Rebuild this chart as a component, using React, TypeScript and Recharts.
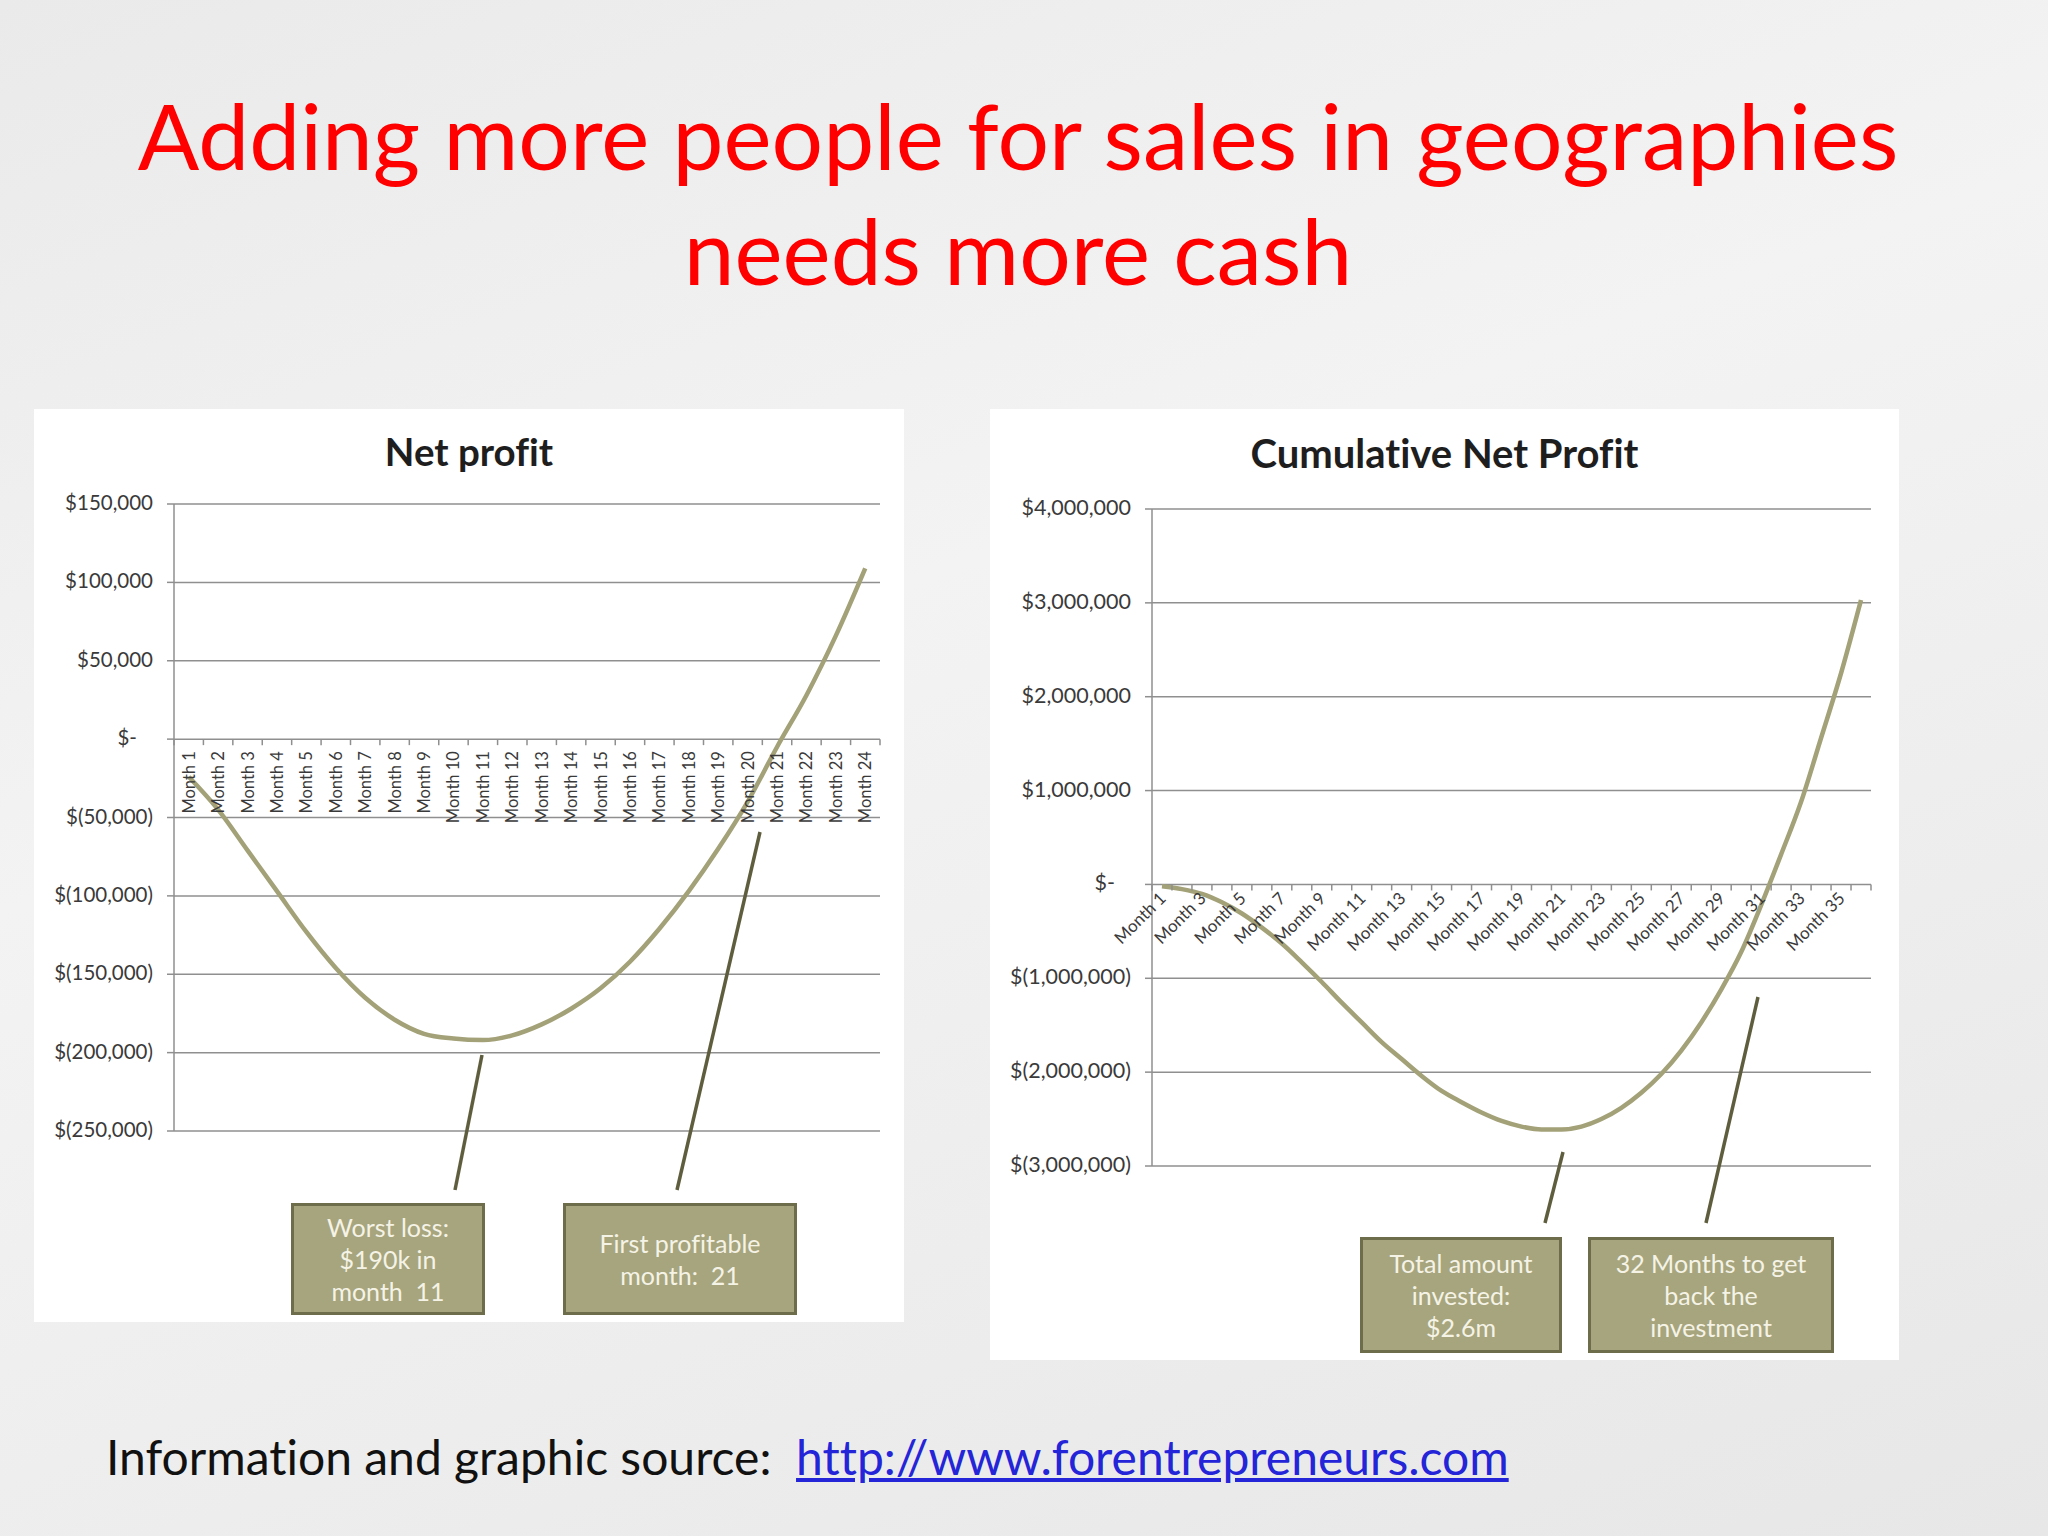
import React from "react";
import { LineChart, Line, XAxis, YAxis, CartesianGrid, ReferenceDot } from "recharts";

// ---- data ----
const NET_MONTHS = [
  "Month 1", "Month 2", "Month 3", "Month 4", "Month 5", "Month 6",
  "Month 7", "Month 8", "Month 9", "Month 10", "Month 11", "Month 12",
  "Month 13", "Month 14", "Month 15", "Month 16", "Month 17", "Month 18",
  "Month 19", "Month 20", "Month 21", "Month 22", "Month 23", "Month 24",
];
const NET_PROFIT = [
  -24000, -45000, -71000, -97000, -123000, -146000, -165000, -179000,
  -188000, -191000, -192000, -189000, -182000, -172000, -159000, -142000,
  -121000, -97000, -70000, -40000, -5000, 28000, 66000, 109000,
];
const NET_TICKS = [-250000, -200000, -150000, -100000, -50000, 0, 50000, 100000, 150000];

const CUM_MONTHS = [
  "Month 1", "Month 2", "Month 3", "Month 4", "Month 5", "Month 6",
  "Month 7", "Month 8", "Month 9", "Month 10", "Month 11", "Month 12",
  "Month 13", "Month 14", "Month 15", "Month 16", "Month 17", "Month 18",
  "Month 19", "Month 20", "Month 21", "Month 22", "Month 23", "Month 24",
  "Month 25", "Month 26", "Month 27", "Month 28", "Month 29", "Month 30",
  "Month 31", "Month 32", "Month 33", "Month 34", "Month 35", "Month 36",
];
const CUM_PROFIT = [
  -20000, -50000, -100000, -190000, -310000, -460000, -630000, -830000,
  -1040000, -1260000, -1470000, -1680000, -1860000, -2040000, -2200000, -2320000,
  -2430000, -2520000, -2580000, -2610000, -2610000, -2580000, -2500000, -2380000,
  -2220000, -2020000, -1770000, -1470000, -1120000, -720000, -220000, 320000,
  880000, 1560000, 2250000, 3030000,
];
const CUM_TICKS = [-3000000, -2000000, -1000000, 0, 1000000, 2000000, 3000000, 4000000];

const netData = NET_MONTHS.map((m, i) => ({ month: m, value: NET_PROFIT[i] }));
const cumData = CUM_MONTHS.map((m, i) => ({ month: m, value: CUM_PROFIT[i] }));

// ---- look ----
const FONT = "Lato, 'Open Sans', sans-serif";
const LINE = "#a3a177";
const GRID = "#8f8f8f";
const LABEL = "#3a3a3a";
const BOX_FILL = "#a7a57d";
const BOX_EDGE = "#6d6c4b";
const LEADER = "#5e5d3d";

const fmtMoney = (v: number) => {
  if (v === 0) return "$-";
  const s = Math.abs(v).toLocaleString("en-US");
  return v < 0 ? `$(${s})` : `$${s}`;
};

const makeYTick = (size: number) => (props: any) => {
  const { x, y, payload } = props;
  const v = payload.value as number;
  return (
    <text x={v === 0 ? x - 16 : x} y={y} dy={6} textAnchor="end" fontSize={size} fontFamily={FONT} fill={LABEL}>
      {fmtMoney(v)}
    </text>
  );
};
const NetYTick = makeYTick(20.5);
const CumYTick = makeYTick(21.5);

// plot width / categories, for the tick marks on the zero line
const NET_STEP = 706 / 24;
const CUM_STEP = 719 / 36;

const netAxisMark = (label: string, i: number) => (props: any) => {
  const { cx, cy } = props;
  const tx = cx + 6;
  const ty = cy + 12;
  return (
    <g>
      <line x1={cx - NET_STEP / 2} x2={cx - NET_STEP / 2} y1={cy} y2={cy + 6} stroke={GRID} strokeWidth={1.5} />
      {i === NET_MONTHS.length - 1 && (
        <line x1={cx + NET_STEP / 2} x2={cx + NET_STEP / 2} y1={cy} y2={cy + 6} stroke={GRID} strokeWidth={1.5} />
      )}
      <text x={tx} y={ty} transform={`rotate(-90 ${tx} ${ty})`} textAnchor="end" fontSize={16.5} fontFamily={FONT} fill={LABEL}>
        {label}
      </text>
    </g>
  );
};

const cumAxisMark = (label: string, i: number) => (props: any) => {
  const { cx, cy } = props;
  const tx = cx + 5;
  const ty = cy + 15;
  return (
    <g>
      <line x1={cx - CUM_STEP / 2} x2={cx - CUM_STEP / 2} y1={cy} y2={cy + 6} stroke={GRID} strokeWidth={1.5} />
      {i === CUM_MONTHS.length - 1 && (
        <line x1={cx + CUM_STEP / 2} x2={cx + CUM_STEP / 2} y1={cy} y2={cy + 6} stroke={GRID} strokeWidth={1.5} />
      )}
      {i % 2 === 0 && (
        <text x={tx} y={ty} transform={`rotate(-45 ${tx} ${ty})`} textAnchor="end" fontSize={17} fontFamily={FONT} fill={LABEL}>
          {label}
        </text>
      )}
    </g>
  );
};

function NetProfitChart() {
  return (
    <LineChart width={870} height={913} data={netData} margin={{ top: 95, right: 24, bottom: 191, left: 0 }}>
      <CartesianGrid vertical={false} stroke={GRID} strokeWidth={1.5} />
      <XAxis dataKey="month" hide padding={{ left: NET_STEP / 2, right: NET_STEP / 2 }} />
      <YAxis
        width={140}
        domain={[-250000, 150000]}
        ticks={NET_TICKS}
        tick={<NetYTick />}
        tickSize={7}
        tickMargin={14}
        axisLine={{ stroke: GRID, strokeWidth: 1.5 }}
        tickLine={{ stroke: GRID, strokeWidth: 1.5 }}
        interval={0}
      />
      {NET_MONTHS.map((m, i) => (
        <ReferenceDot key={m} x={m} y={0} r={0} shape={netAxisMark(m, i)} />
      ))}
      <Line type="monotone" dataKey="value" stroke={LINE} strokeWidth={4.5} dot={false} isAnimationActive={false} />
    </LineChart>
  );
}

function CumulativeChart() {
  return (
    <LineChart width={909} height={951} data={cumData} margin={{ top: 100, right: 28, bottom: 194, left: 0 }}>
      <CartesianGrid vertical={false} stroke={GRID} strokeWidth={1.5} />
      <XAxis dataKey="month" hide padding={{ left: CUM_STEP / 2, right: CUM_STEP / 2 }} />
      <YAxis
        width={162}
        domain={[-3000000, 4000000]}
        ticks={CUM_TICKS}
        tick={<CumYTick />}
        tickSize={7}
        tickMargin={14}
        axisLine={{ stroke: GRID, strokeWidth: 1.5 }}
        tickLine={{ stroke: GRID, strokeWidth: 1.5 }}
        interval={0}
      />
      {CUM_MONTHS.map((m, i) => (
        <ReferenceDot key={m} x={m} y={0} r={0} shape={cumAxisMark(m, i)} />
      ))}
      <Line type="monotone" dataKey="value" stroke={LINE} strokeWidth={4.5} dot={false} isAnimationActive={false} />
    </LineChart>
  );
}

function Callout({ left, top, width, height, lines }: { left: number; top: number; width: number; height: number; lines: string[] }) {
  return (
    <div
      style={{
        position: "absolute", left, top, width, height, boxSizing: "border-box",
        background: BOX_FILL, border: `3px solid ${BOX_EDGE}`,
        display: "flex", flexDirection: "column", alignItems: "center", justifyContent: "center",
        color: "#f5f3e6", fontSize: 25, lineHeight: "32px", fontFamily: FONT, textAlign: "center",
        whiteSpace: "pre",
      }}
    >
      {lines.map((l) => (
        <div key={l}>{l}</div>
      ))}
    </div>
  );
}

export default function App() {
  return (
    <div
      style={{
        position: "absolute", left: 0, top: 0, width: 2048, height: 1536, overflow: "hidden",
        background: "linear-gradient(160deg, #eaeaea 0%, #f3f3f3 40%, #ededed 70%, #e7e7e7 100%)",
        fontFamily: FONT, fontVariantLigatures: "none",
      }}
    >
      <div style={{ position: "absolute", left: 100, top: 77, width: 1836, textAlign: "center", color: "#ff0000", fontSize: 91, lineHeight: "115px" }}>
        Adding more people for sales in geographies
        <br />
        needs more cash
      </div>

      <div style={{ position: "absolute", left: 34, top: 409, width: 870, height: 913, background: "#ffffff" }}>
        <div style={{ position: "absolute", left: 0, top: 19, width: 870, textAlign: "center", fontSize: 38.5, lineHeight: "46px", fontWeight: 700, color: "#1e1e1e" }}>
          Net profit
        </div>
        <div style={{ position: "absolute", left: 0, top: 0 }}>
          <NetProfitChart />
        </div>
      </div>

      <div style={{ position: "absolute", left: 990, top: 409, width: 909, height: 951, background: "#ffffff" }}>
        <div style={{ position: "absolute", left: 0, top: 21, width: 909, textAlign: "center", fontSize: 40, lineHeight: "46px", fontWeight: 700, color: "#1e1e1e" }}>
          Cumulative Net Profit
        </div>
        <div style={{ position: "absolute", left: 0, top: 0 }}>
          <CumulativeChart />
        </div>
      </div>

      <svg width={2048} height={1536} style={{ position: "absolute", left: 0, top: 0, pointerEvents: "none" }}>
        <line x1={455} y1={1190} x2={482} y2={1055} stroke={LEADER} strokeWidth={3.5} />
        <line x1={677} y1={1190} x2={760} y2={832} stroke={LEADER} strokeWidth={3.5} />
        <line x1={1545} y1={1223} x2={1563} y2={1152} stroke={LEADER} strokeWidth={3.5} />
        <line x1={1706} y1={1223} x2={1758} y2={997} stroke={LEADER} strokeWidth={3.5} />
      </svg>

      <Callout left={291} top={1203} width={194} height={112} lines={["Worst loss:", "$190k in", "month  11"]} />
      <Callout left={563} top={1203} width={234} height={112} lines={["First profitable", "month:  21"]} />
      <Callout left={1360} top={1237} width={202} height={116} lines={["Total amount", "invested:", "$2.6m"]} />
      <Callout left={1588} top={1237} width={246} height={116} lines={["32 Months to get", "back the", "investment"]} />

      <div style={{ position: "absolute", left: 106, top: 1429, fontSize: 48, lineHeight: "56px", color: "#111111", whiteSpace: "pre" }}>
        {"Information and graphic source:  "}
        <span style={{ color: "#2424d8", textDecoration: "underline" }}>http://www.forentrepreneurs.com</span>
      </div>
    </div>
  );
}
